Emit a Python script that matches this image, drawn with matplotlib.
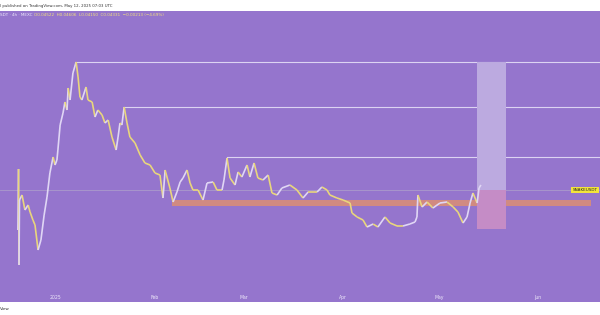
import numpy as np
import matplotlib
matplotlib.use('Agg')
import matplotlib.pyplot as plt
from matplotlib.collections import LineCollection

# days since 2025-01-01, price in USDT
day_l = [-11.6, -11.4, -11.25, -11.1, -10.3, -9.4, -8.4, -7.8, -6.9, -6.25, -5.3, -4.4, -3.4, -2.5, -1.6,
         -0.6, 0.0, 0.6, 0.9, 1.6, 2.5, 3.1, 3.75, 4.1, 4.7, 5.6, 6.6, 7.2, 7.8, 8.4, 9.7, 10.3, 11.6,
         12.5, 13.4, 14.7, 15.6, 16.6, 17.8, 19.1, 19.7, 20.3, 20.9, 21.6, 22.5, 23.4, 25.0, 26.6, 28.1,
         29.7, 31.25, 32.8, 33.75, 34.4, 35.9, 36.9, 38.1, 39.1, 40.0, 41.25, 42.2, 43.1, 44.7, 46.25,
         47.5, 49.4, 50.6, 52.2, 52.8, 53.75, 54.7, 56.25, 57.2, 58.4, 60.0, 60.9, 62.2, 63.4, 65.0,
         66.6, 67.8, 69.4, 70.9, 73.4, 75.6, 77.5, 79.1, 81.9, 83.4, 85.0, 85.9, 88.1, 90.0, 92.2, 92.8,
         94.4, 96.25, 97.5, 99.4, 100.9, 103.1, 104.7, 106.9, 108.75, 110.9, 112.5, 113.1, 113.4, 114.7,
         116.25, 118.1, 120.3, 122.5, 124.4, 125.9, 127.5, 128.75, 129.7, 130.6, 131.9, 132.5, 133.1]
price_l = [0.0273, 0.0517, 0.0133, 0.0393, 0.0413, 0.0353, 0.0373, 0.0345, 0.0313, 0.0293, 0.0193, 0.0233,
           0.0333, 0.0405, 0.0501, 0.0565, 0.0533, 0.0553, 0.0593, 0.0693, 0.0741, 0.0785, 0.0753, 0.0841,
           0.0793, 0.0901, 0.0945, 0.0885, 0.0805, 0.0793, 0.0845, 0.0793, 0.0785, 0.0725, 0.0753, 0.0733,
           0.0701, 0.0713, 0.0645, 0.0593, 0.0645, 0.0701, 0.0693, 0.0765, 0.0701, 0.0645, 0.0621, 0.0573,
           0.0541, 0.0533, 0.0501, 0.0493, 0.0401, 0.0513, 0.0441, 0.0385, 0.0425, 0.0465, 0.0481, 0.0513,
           0.0461, 0.0433, 0.0433, 0.0393, 0.0461, 0.0465, 0.0433, 0.0433, 0.0473, 0.0561, 0.0481, 0.0453,
           0.0505, 0.0485, 0.0533, 0.0485, 0.0541, 0.0481, 0.0473, 0.0493, 0.0421, 0.0413, 0.0441, 0.0453,
           0.0433, 0.0401, 0.0425, 0.0425, 0.0445, 0.0433, 0.0413, 0.0401, 0.0393, 0.0381, 0.0341, 0.0325,
           0.0313, 0.0285, 0.0297, 0.0285, 0.0325, 0.0301, 0.0289, 0.0289, 0.0297, 0.0305, 0.0325, 0.0413,
           0.0365, 0.0385, 0.0361, 0.0381, 0.0385, 0.0365, 0.0345, 0.0301, 0.0325, 0.0381, 0.0421, 0.0381,
           0.0441, 0.0453]

# drawings on the chart
hline_start_l = [6.6, 21.6, 53.75]
hline_price_l = [0.0945, 0.0765, 0.0565]
zone_day = (131.9, 140.9)
zone_top, zone_mid, zone_bot = 0.0945, 0.0433, 0.0277
support_day = (36.6, 167.5)
support_price = (0.0369, 0.0393)
last_price = 0.0433

month_day_l = [0, 31, 59, 90, 120, 151]
month_label_l = ['2025', 'Feb', 'Mar', 'Apr', 'May', 'Jun']

bg = '#9575cd'
fig = plt.figure(figsize=(6, 3.15), dpi=100)
fig.patch.set_facecolor('white')
ax = fig.add_axes([0, 13 / 315, 1, 291 / 315])
ax.set_facecolor(bg)
for s in ax.spines.values():
    s.set_visible(False)
ax.set_xticks([])
ax.set_yticks([])
ax.set_xlim(-17.19, 170.3)
ax.set_ylim(-0.0015, 0.1149)

line_c = '#ddd3f2'
for d0, p in zip(hline_start_l, hline_price_l):
    ax.plot([d0, 200], [p, p], color=line_c, lw=0.8, zorder=2)

ax.axhline(last_price, color='#ab9bcb', lw=0.6, zorder=1)

ax.fill_between(support_day, support_price[0], support_price[1], color='#dc8e74', alpha=0.85, lw=0, zorder=2)
ax.fill_between(zone_day, zone_mid, zone_top, color='#bcaae0', lw=0, zorder=2)
ax.fill_between(zone_day, zone_bot, zone_mid, color='#c58cc6', lw=0, zorder=2)

x = np.array(day_l)
y = np.array(price_l)
seg = np.stack([np.column_stack([x[:-1], y[:-1]]), np.column_stack([x[1:], y[1:]])], axis=1)
cols = ['#e0d6f5' if b > a else '#e9d67c' for a, b in zip(y[:-1], y[1:])]
ax.add_collection(LineCollection(seg, colors=cols, linewidths=1.2, zorder=4))

for d, lab in zip(month_day_l, month_label_l):
    ax.text(d, 0.017, lab, transform=ax.get_xaxis_transform(), ha='center', va='center',
            fontsize=3.3, color='#eee8fa')

ax.text(0.954, last_price, 'SNAKEUSDT', transform=ax.get_yaxis_transform(), ha='left', va='center',
        fontsize=3, color='#222222', zorder=6,
        bbox=dict(boxstyle='square,pad=0.3', fc='#f2e43c', ec='none'))

ax.text(0.0, 0.986, 'SDT · 4h · MEXC', transform=ax.transAxes, ha='left', va='center',
        fontsize=3.0, color='#eee8fa')
ax.text(0.057, 0.986, 'O0.04522  H0.04606  L0.04150  C0.04331  \u22120.00213 (\u22124.69%)',
        transform=ax.transAxes, ha='left', va='center', fontsize=3.0, color='#f3e27a')

fig.text(0.0, 1 - 5.5 / 315, 'l published on TradingView.com, May 12, 2025 07:03 UTC', ha='left', va='center',
         fontsize=2.8, color='#333333')
fig.text(0.0, 6 / 315, 'View', ha='left', va='center', fontsize=3.0, color='#333333')

plt.savefig('out.png', dpi=100, facecolor='white')
